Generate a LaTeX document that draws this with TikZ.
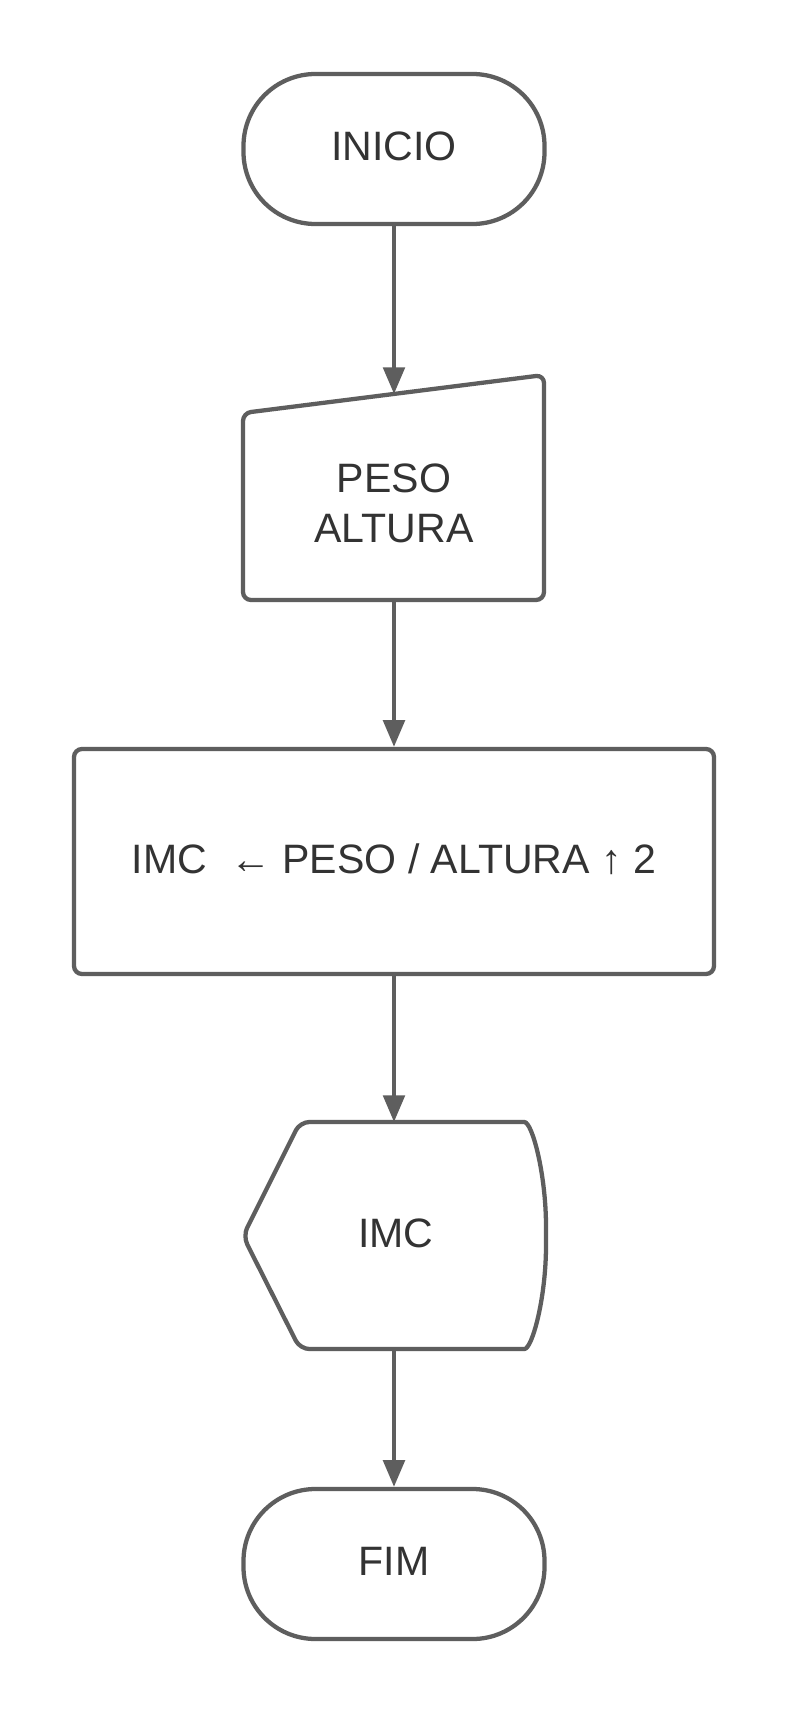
\documentclass[tikz,border=0pt]{standalone}
\usepackage{fontspec}
\setmainfont{Liberation Sans}
\usetikzlibrary{arrows.meta}
\definecolor{lc}{HTML}{5E5E5E}
\definecolor{tc}{HTML}{333333}
\begin{document}
\begin{tikzpicture}[x=0.75pt,y=-0.75pt,
  txt/.style={text=tc,font=\fontsize{30.8}{37.5}\selectfont,align=center,inner sep=0pt},
  lbl/.style={txt,text height=22.5pt,text depth=5pt},
  outline/.style={draw=lc,line width=3.2pt,line join=round},
  term/.style={outline,lbl,rounded corners=54pt,minimum width=225.75pt,minimum height=112.5pt},
  proc/.style={outline,lbl,rounded corners=6pt,minimum width=480pt,minimum height=168.75pt},
  flow/.style={draw=lc,line width=3.2pt,-{Triangle[width=16pt,length=20pt]}}]
\useasboundingbox[fill=white] (0,0) rectangle (788,1716);

% start
\node[term] (inicio) at (394,149) {INICIO};

% manual input
\draw[outline,rounded corners=6pt] (243,413) -- (544,375) -- (544,600) -- (243,600) -- cycle;
\node[txt] (entrada) at (394,503) {PESO\\ALTURA};
\coordinate (entradaTop) at (394,394);
\coordinate (entradaBot) at (394,600);

% process
\node[proc] (calc) at (394,861.5) {IMC~~← PESO / ALTURA ↑ 2};

% display
\draw[outline,rounded corners=7pt] (300,1122) -- (515,1122)
  .. controls (532.1,1122) and (546,1173.6) .. (546,1236)
  .. controls (546,1298.4) and (532.1,1349) .. (515,1349)
  -- (300,1349) -- (243,1236) -- cycle;
\node[lbl] (saida) at (396,1236) {IMC};
\coordinate (saidaTop) at (394,1122);
\coordinate (saidaBot) at (394,1349);

% end
\node[term] (fim) at (394,1564) {FIM};

% connectors
\draw[flow] (inicio.south) -- (entradaTop);
\draw[flow] (entradaBot) -- (calc.north);
\draw[flow] (calc.south) -- (saidaTop);
\draw[flow] (saidaBot) -- (fim.north);
\end{tikzpicture}
\end{document}
